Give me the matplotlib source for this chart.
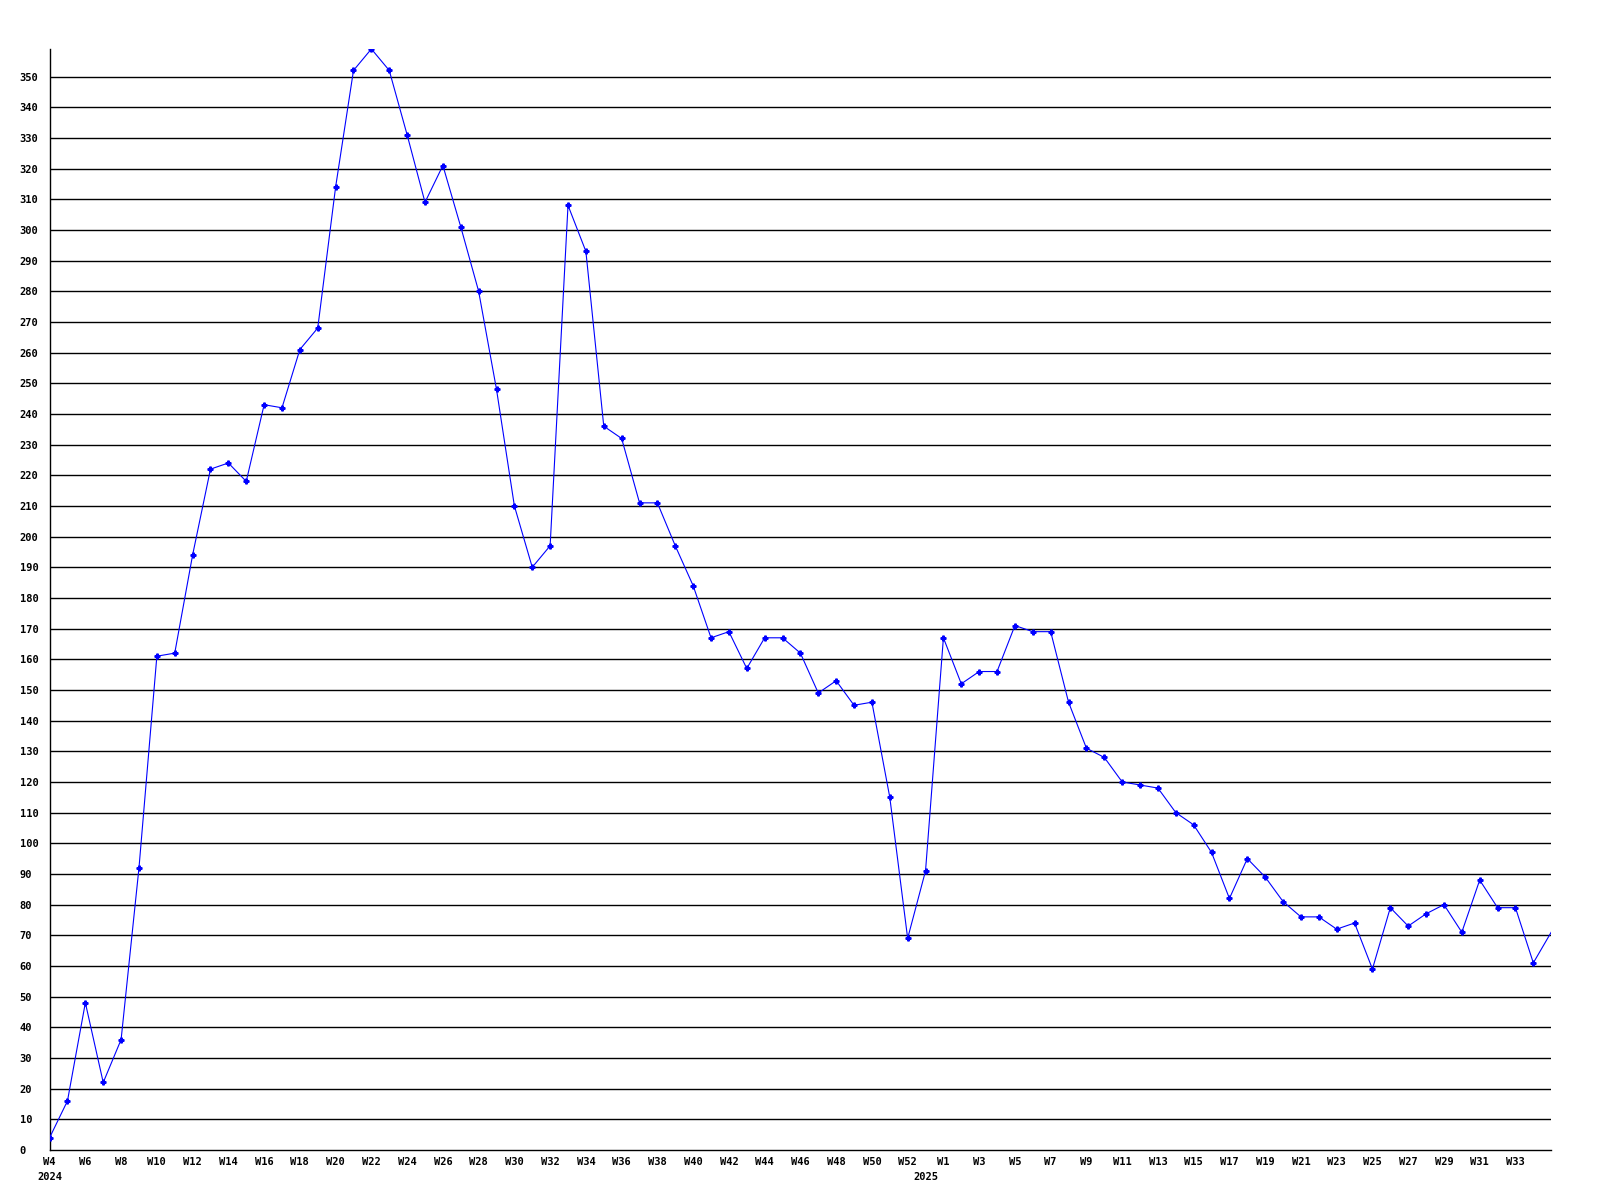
import matplotlib
matplotlib.use("Agg")
import matplotlib.pyplot as plt
import matplotlib.transforms as mtransforms

# weekly series, 2024 W4 .. 2025 W35
weeks_2024 = list(range(4, 54))
weeks_2025 = list(range(1, 36))
values = [4, 16, 48, 22, 36, 92, 161, 162, 194, 222,
          224, 218, 243, 242, 261, 268, 314, 352, 359, 352,
          331, 309, 321, 301, 280, 248, 210, 190, 197, 308,
          293, 236, 232, 211, 211, 197, 184, 167, 169, 157,
          167, 167, 162, 149, 153, 145, 146, 115, 69, 91,
          167, 152, 156, 156, 171, 169, 169, 146, 131, 128,
          120, 119, 118, 110, 106, 97, 82, 95, 89, 81,
          76, 76, 72, 74, 59, 79, 73, 77, 80, 71,
          88, 79, 79, 61, 71]
year_labels = ["2024", "2025"]

week_names = ["W%d" % w for w in weeks_2024] + ["W%d" % w for w in weeks_2025]
x = list(range(len(values)))

# labelled ticks: every 2nd week, W53 skipped, last week unlabelled
tick_pos = [i for i in x[:-1]
            if week_names[i] != "W53" and int(week_names[i][1:]) % 2 == (0 if i < 49 else 1)]
tick_lab = [week_names[i] for i in tick_pos]
year_pos = [0, 49]

font = {"family": "DejaVu Sans Mono", "weight": "bold", "size": 7.5}

fig = plt.figure(figsize=(16, 12), dpi=100)
ax = fig.add_axes([0.031, 0.0417, 0.9385, 0.9175])

for v in range(10, 360, 10):
    ax.axhline(v, color="black", lw=1.0, zorder=1)

ax.plot(x, values, color="#0000ff", lw=0.8, marker="P", ms=3.5,
        markevery=list(range(len(values) - 1)), zorder=3)

ax.set_xlim(0, 84)
ax.set_ylim(0, 359)

ax.spines["top"].set_visible(False)
ax.spines["right"].set_visible(False)
ax.spines["left"].set_linewidth(1.0)
ax.spines["bottom"].set_linewidth(1.0)

ax.set_yticks(list(range(0, 360, 10)))
ax.set_yticklabels([str(v) for v in range(0, 360, 10)], fontdict=font, ha="left")
ax.tick_params(axis="y", length=0, pad=21.6)

ax.set_xticks(tick_pos)
ax.set_xticklabels(tick_lab, fontdict=font)
ax.tick_params(axis="x", length=0, pad=5)

trans = mtransforms.blended_transform_factory(ax.transData, fig.transFigure)
for pos, lab in zip(year_pos, year_labels):
    ax.text(pos, 1 - 1177 / 1200, lab, transform=trans, ha="center", va="center",
            fontdict=font, clip_on=False)

fig.savefig("out.png", dpi=100, facecolor="white")
